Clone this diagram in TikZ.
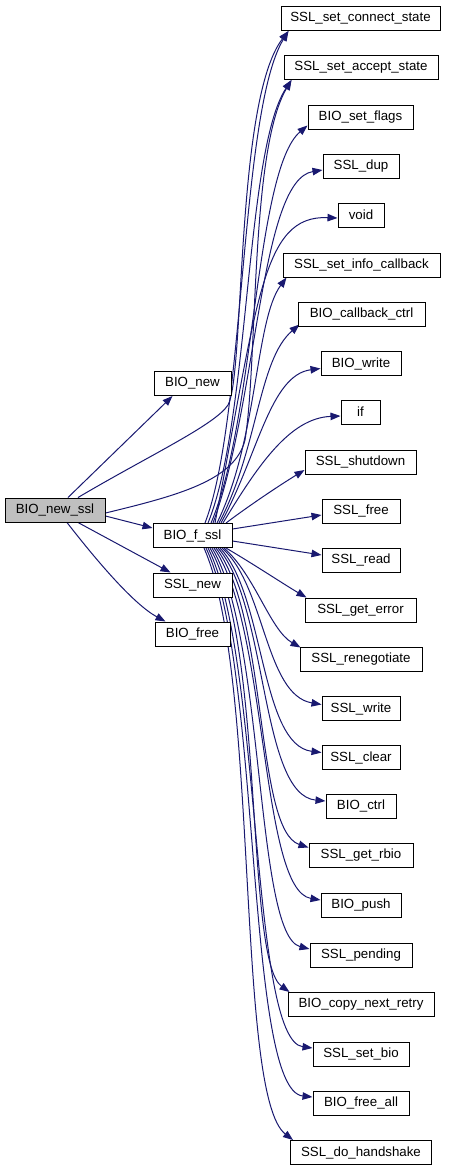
\documentclass[tikz,border=0pt]{standalone}
\usepackage{fontspec}
\setmainfont{Liberation Sans}
\usetikzlibrary{arrows.meta,backgrounds}
\definecolor{edgeblue}{HTML}{191970}
\definecolor{rootgray}{HTML}{BFBFBF}
\tikzset{
  fn/.style={draw=black, line width=1pt, rectangle, minimum height=24pt, inner sep=0pt, font=\fontsize{13.3}{15}\selectfont, fill=white},
  rootfn/.style={fn, fill=rootgray},
  e/.style={draw=edgeblue, line width=1pt, -{Triangle[length=10pt,width=7.5pt]}, edgeblue}
}
\begin{document}
\begin{tikzpicture}[x=1pt,y=-1pt]
\useasboundingbox (0,0) rectangle (448,1171);
% nodes
\node[rootfn, minimum width=100pt] (r) at (55,510) {BIO\_new\_ssl};
\node[fn, minimum width=77pt] (bn) at (192.5,383.5) {BIO\_new};
\node[fn, minimum width=79pt] (f) at (192.5,535.5) {BIO\_f\_ssl};
\node[fn, minimum width=79pt] (sn) at (192.5,585) {SSL\_new};
\node[fn, minimum width=75pt] (bf) at (192.5,634) {BIO\_free};
\node[fn, minimum width=159pt] (cs) at (360.5,18.5) {SSL\_set\_connect\_state};
\node[fn, minimum width=154pt] (as) at (361,67.5) {SSL\_set\_accept\_state};
\node[fn, minimum width=105pt] (sf) at (360.5,117) {BIO\_set\_flags};
\node[fn, minimum width=76pt] (dup) at (361,166) {SSL\_dup};
\node[fn, minimum width=46pt] (vd) at (361,215) {void};
\node[fn, minimum width=157pt] (ic) at (361.5,265) {SSL\_set\_info\_callback};
\node[fn, minimum width=127pt] (cb) at (361.5,314) {BIO\_callback\_ctrl};
\node[fn, minimum width=80pt] (bw) at (361,363.5) {BIO\_write};
\node[fn, minimum width=39pt] (iff) at (360.5,412) {if};
\node[fn, minimum width=111pt] (sd) at (360.5,462) {SSL\_shutdown};
\node[fn, minimum width=78pt] (sfr) at (361,511) {SSL\_free};
\node[fn, minimum width=78pt] (sr) at (361,560) {SSL\_read};
\node[fn, minimum width=111pt] (ge) at (360.5,610) {SSL\_get\_error};
\node[fn, minimum width=122pt] (rn) at (361,659) {SSL\_renegotiate};
\node[fn, minimum width=78pt] (sw) at (361,708.5) {SSL\_write};
\node[fn, minimum width=78pt] (sc) at (361,757.5) {SSL\_clear};
\node[fn, minimum width=70pt] (bc) at (361,806) {BIO\_ctrl};
\node[fn, minimum width=104pt] (gr) at (361,855) {SSL\_get\_rbio};
\node[fn, minimum width=80pt] (bp) at (361,905) {BIO\_push};
\node[fn, minimum width=102pt] (pe) at (361,955) {SSL\_pending};
\node[fn, minimum width=146pt] (cn) at (361,1004.5) {BIO\_copy\_next\_retry};
\node[fn, minimum width=96pt] (sb) at (361,1054) {SSL\_set\_bio};
\node[fn, minimum width=96pt] (fa) at (361,1103) {BIO\_free\_all};
\node[fn, minimum width=141pt] (dh) at (361,1152.5) {SSL\_do\_handshake};
\begin{pgfonlayer}{background}
% edges from BIO_new_ssl
\draw[e] ([xshift=13pt]r.north) -- ([xshift=-20pt]bn.south);
\draw[e] ([xshift=23pt]r.north) .. controls (150,455) and (215,425) .. (228,405) .. controls (245,375) and (235,100) .. ([xshift=8pt]cs.south west);
\draw[e] ([yshift=-3pt]r.east) .. controls (180,495) and (235,480) .. (245,440) .. controls (258,360) and (250,150) .. ([xshift=8pt]as.south west);
\draw[e] ([yshift=-6pt]r.east) -- ([yshift=7.5pt]f.west);
\draw[e] ([xshift=23pt]r.south) -- ([xshift=-22pt]sn.north);
\draw[e] ([xshift=12pt]r.south) .. controls (100,565) and (135,605) .. ([xshift=-27pt]bf.north);
% edges from BIO_f_ssl upwards
\draw[e] ([xshift=12.5pt]f.north) .. controls (245,420) and (240,110) .. ([xshift=8pt]cs.south west);
\draw[e] ([xshift=15.5pt]f.north) .. controls (250,420) and (245,150) .. ([xshift=8pt]as.south west);
\draw[e] ([xshift=18.5pt]f.north) .. controls (255,420) and (255,170) .. ([yshift=4pt]sf.south west);
\draw[e] ([xshift=20.5pt]f.north) .. controls (258,400) and (260,180) .. ([yshift=-4pt]dup.west);
\draw[e] ([xshift=22.5pt]f.north) .. controls (258,300) and (262,215) .. ([yshift=-3pt]vd.west);
\draw[e] ([xshift=24.5pt]f.north) .. controls (258,440) and (255,320) .. ([xshift=4pt]ic.south west);
\draw[e] ([xshift=26.5pt]f.north) .. controls (258,450) and (258,360) .. ([xshift=2pt,yshift=2pt]cb.south west);
\draw[e] ([xshift=28.5pt]f.north) .. controls (258,455) and (270,375) .. ([yshift=-5pt]bw.west);
\draw[e] ([xshift=30.5pt]f.north) .. controls (258,465) and (290,418) .. ([yshift=-4pt]iff.west);
\draw[e] ([xshift=33.5pt]f.north) .. controls (250,505) and (280,485) .. ([yshift=-8pt]sd.west);
\draw[e] ([yshift=6.5pt]f.east) -- ([yshift=-4pt]sfr.west);
\draw[e] ([yshift=-5.5pt]f.east) -- ([yshift=5pt]sr.west);
% edges from BIO_f_ssl downwards
\draw[e] ([xshift=33.5pt]f.south) .. controls (255,565) and (285,585) .. ([xshift=2pt]ge.north west);
\draw[e] ([xshift=31.5pt]f.south) .. controls (255,575) and (270,630) .. ([xshift=1pt,yshift=-1pt]rn.north west);
\draw[e] ([xshift=29.5pt]f.south) .. controls (265,585) and (265,695) .. ([yshift=4pt]sw.west);
\draw[e] ([xshift=27.5pt]f.south) .. controls (265,595) and (260,745) .. ([yshift=5pt]sc.west);
\draw[e] ([xshift=25.5pt]f.south) .. controls (268,605) and (260,795) .. ([yshift=5pt]bc.west);
\draw[e] ([xshift=23.5pt]f.south) .. controls (268,615) and (255,830) .. ([yshift=-5pt]gr.north west);
\draw[e] ([xshift=21.5pt]f.south) .. controls (268,625) and (260,890) .. ([yshift=5pt]bp.west);
\draw[e] ([xshift=19.5pt]f.south) .. controls (265,635) and (255,935) .. ([yshift=6pt]pe.west);
\draw[e] ([xshift=17.5pt]f.south) .. controls (265,645) and (245,960) .. ([xshift=2pt]cn.north west);
\draw[e] ([xshift=15.5pt]f.south) .. controls (262,655) and (250,1040) .. ([yshift=6pt]sb.west);
\draw[e] ([xshift=13.5pt]f.south) .. controls (262,665) and (245,1090) .. ([yshift=6pt]fa.west);
\draw[e] ([xshift=11.5pt]f.south) .. controls (260,675) and (235,1095) .. ([xshift=3pt]dh.north west);
\end{pgfonlayer}
\end{tikzpicture}
\end{document}
